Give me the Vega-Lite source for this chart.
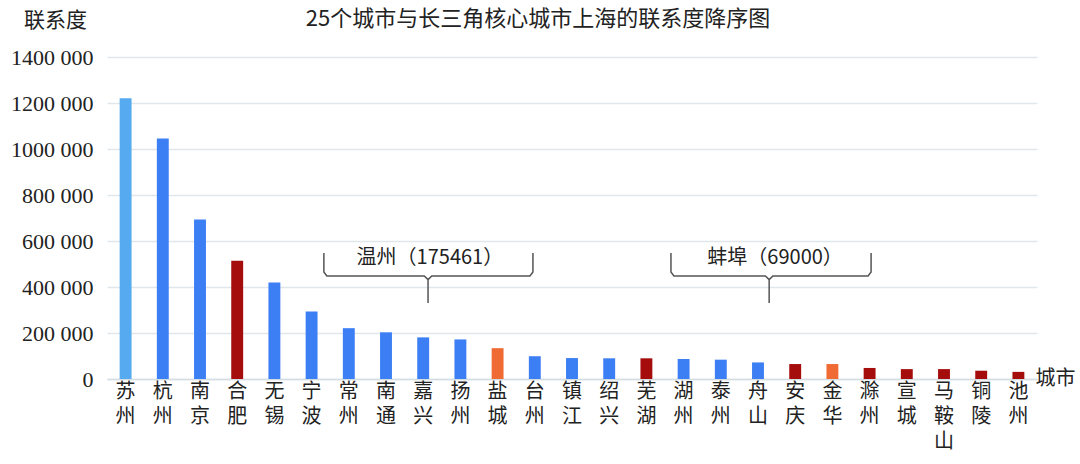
{
  "$schema": "https://vega.github.io/schema/vega-lite/v6.json",
  "width": 930,
  "height": 322,
  "autosize": {"type": "none"},
  "padding": {"left": 107, "top": 57, "right": 43, "bottom": 85},
  "background": "#ffffff",
  "title": {
    "text": "25个城市与长三角核心城市上海的联系度降序图",
    "anchor": "middle",
    "frame": "group",
    "dx": -34,
    "dy": 26,
    "fontSize": 22,
    "font": "Noto Sans CJK SC",
    "fontWeight": "normal",
    "color": "#222222"
  },
  "datasets": {
    "cities": [
      {"city": "苏州", "value": 1221000, "cls": "浅蓝"},
      {"city": "杭州", "value": 1046000, "cls": "蓝"},
      {"city": "南京", "value": 693000, "cls": "蓝"},
      {"city": "合肥", "value": 514000, "cls": "深红"},
      {"city": "无锡", "value": 420000, "cls": "蓝"},
      {"city": "宁波", "value": 294000, "cls": "蓝"},
      {"city": "常州", "value": 221000, "cls": "蓝"},
      {"city": "南通", "value": 203000, "cls": "蓝"},
      {"city": "嘉兴", "value": 181000, "cls": "蓝"},
      {"city": "扬州", "value": 172000, "cls": "蓝"},
      {"city": "盐城", "value": 134000, "cls": "橙"},
      {"city": "台州", "value": 99000, "cls": "蓝"},
      {"city": "镇江", "value": 91000, "cls": "蓝"},
      {"city": "绍兴", "value": 90000, "cls": "蓝"},
      {"city": "芜湖", "value": 90000, "cls": "深红"},
      {"city": "湖州", "value": 87000, "cls": "蓝"},
      {"city": "泰州", "value": 84000, "cls": "蓝"},
      {"city": "舟山", "value": 72000, "cls": "蓝"},
      {"city": "安庆", "value": 65000, "cls": "深红"},
      {"city": "金华", "value": 65000, "cls": "橙"},
      {"city": "滁州", "value": 48000, "cls": "深红"},
      {"city": "宣城", "value": 43000, "cls": "深红"},
      {"city": "马鞍山", "value": 43000, "cls": "深红"},
      {"city": "铜陵", "value": 36000, "cls": "深红"},
      {"city": "池州", "value": 31000, "cls": "深红"}
    ],
    "brackets": [
      {"b": "温州L", "i": 1, "p": 6.33, "v": 548000},
      {"b": "温州L", "i": 2, "p": 6.33, "v": 465000},
      {"b": "温州L", "i": 3, "p": 6.41, "v": 448000},
      {"b": "温州L", "i": 4, "p": 9.03, "v": 448000},
      {"b": "温州L", "i": 5, "p": 9.13, "v": 432000},
      {"b": "温州L", "i": 6, "p": 9.13, "v": 330000},
      {"b": "温州R", "i": 1, "p": 11.95, "v": 548000},
      {"b": "温州R", "i": 2, "p": 11.95, "v": 465000},
      {"b": "温州R", "i": 3, "p": 11.87, "v": 448000},
      {"b": "温州R", "i": 4, "p": 9.23, "v": 448000},
      {"b": "温州R", "i": 5, "p": 9.13, "v": 432000},
      {"b": "蚌埠L", "i": 1, "p": 15.66, "v": 548000},
      {"b": "蚌埠L", "i": 2, "p": 15.66, "v": 465000},
      {"b": "蚌埠L", "i": 3, "p": 15.74, "v": 448000},
      {"b": "蚌埠L", "i": 4, "p": 18.2, "v": 448000},
      {"b": "蚌埠L", "i": 5, "p": 18.3, "v": 432000},
      {"b": "蚌埠L", "i": 6, "p": 18.3, "v": 330000},
      {"b": "蚌埠R", "i": 1, "p": 21.04, "v": 548000},
      {"b": "蚌埠R", "i": 2, "p": 21.04, "v": 465000},
      {"b": "蚌埠R", "i": 3, "p": 20.96, "v": 448000},
      {"b": "蚌埠R", "i": 4, "p": 18.4, "v": 448000},
      {"b": "蚌埠R", "i": 5, "p": 18.3, "v": 432000}
    ],
    "notes": [
      {"t": "温州（175461）", "p": 9.18, "v": 526000},
      {"t": "蚌埠（69000）", "p": 18.46, "v": 526000}
    ]
  },
  "layer": [
    {
      "data": {"name": "cities"},
      "mark": {"type": "bar"},
      "encoding": {
        "x": {
          "field": "city", "type": "nominal", "sort": null,
          "scale": {"paddingInner": 0.68, "paddingOuter": 0.34},
          "axis": {
            "title": "城市",
            "titleAngle": 0,
            "titleX": 928,
            "titleY": -1,
            "titleAlign": "left",
            "titleBaseline": "middle",
            "titleFont": "Noto Sans CJK SC",
            "titleFontSize": 20,
            "titleFontWeight": "normal",
            "titleColor": "#222222",
            "labelExpr": "split(datum.label, '')",
            "labelAngle": 0,
            "labelFont": "Noto Sans CJK SC",
            "labelFontSize": 20,
            "labelLineHeight": 25,
            "labelColor": "#222222",
            "labelPadding": 2,
            "ticks": false,
            "domainColor": "#d3dde2",
            "domainWidth": 1.5
          }
        },
        "y": {
          "field": "value", "type": "quantitative",
          "scale": {"domain": [0, 1400000], "nice": false},
          "axis": {
            "values": [0, 200000, 400000, 600000, 800000, 1000000, 1200000, 1400000],
            "labelExpr": "datum.value >= 1000 ? floor(datum.value / 1000) + ' 000' : '0'",
            "labelFont": "Liberation Serif",
            "labelFontSize": 22,
            "labelColor": "#222222",
            "labelPadding": 14,
            "ticks": false,
            "domain": false,
            "gridColor": "#dfe7eb",
            "gridWidth": 1.5,
            "title": "联系度",
            "titleAngle": 0,
            "titleX": -52,
            "titleY": -37,
            "titleAlign": "center",
            "titleBaseline": "middle",
            "titleFont": "Noto Sans CJK SC",
            "titleFontSize": 21,
            "titleFontWeight": "normal",
            "titleColor": "#222222"
          }
        },
        "color": {
          "field": "cls", "type": "nominal", "legend": null,
          "scale": {
            "domain": ["浅蓝", "蓝", "深红", "橙"],
            "range": ["#55aaf0", "#3c7ef4", "#a50d0d", "#f06a34"]
          }
        }
      }
    },
    {
      "data": {"name": "brackets"},
      "mark": {"type": "line", "color": "#555555", "strokeWidth": 1.5},
      "encoding": {
        "x": {"field": "p", "type": "quantitative", "scale": {"domain": [0.5, 25.5], "nice": false, "zero": false}, "axis": null},
        "y": {"field": "v", "type": "quantitative"},
        "detail": {"field": "b"},
        "order": {"field": "i"}
      }
    },
    {
      "data": {"name": "notes"},
      "mark": {"type": "text", "font": "Noto Sans CJK SC", "fontSize": 20, "color": "#222222", "baseline": "middle", "align": "center"},
      "encoding": {
        "x": {"field": "p", "type": "quantitative", "scale": {"domain": [0.5, 25.5], "nice": false, "zero": false}, "axis": null},
        "y": {"field": "v", "type": "quantitative"},
        "text": {"field": "t"}
      }
    }
  ],
  "resolve": {"scale": {"x": "independent"}, "axis": {"x": "independent"}},
  "config": {"view": {"stroke": null}}
}
